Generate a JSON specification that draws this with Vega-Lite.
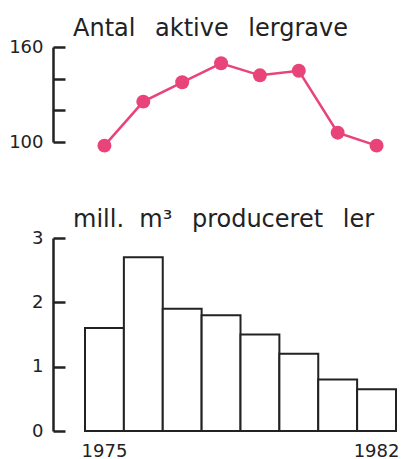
{
  "$schema": "https://vega.github.io/schema/vega-lite/v6.json",
  "background": "white",
  "padding": {"left": 8, "top": 17, "right": 6, "bottom": 0},
  "config": {
    "view": {"stroke": null},
    "font": "DejaVu Sans",
    "title": {"font": "DejaVu Sans", "fontSize": 24, "fontWeight": "normal", "color": "#222", "anchor": "start", "frame": "group", "dx": -12, "baseline": "alphabetic", "offset": -3},
    "axis": {"labelFont": "DejaVu Sans", "labelFontSize": 18, "labelColor": "#222", "grid": false}
  },
  "spacing": 55,
  "vconcat": [
    {
      "width": 311,
      "height": 95,
      "title": "Antal\u2002\u00a0aktive\u2002\u00a0lergrave",
      "data": {"values": [
        {"year": "1975", "n": 97.7},
        {"year": "1976", "n": 125.5},
        {"year": "1977", "n": 137.7},
        {"year": "1978", "n": 149.7},
        {"year": "1979", "n": 142.1},
        {"year": "1980", "n": 145},
        {"year": "1981", "n": 105.9},
        {"year": "1982", "n": 97.7}
      ]},
      "encoding": {
        "x": {"field": "year", "type": "ordinal", "scale": {"type": "point", "padding": 0.5}, "axis": null},
        "y": {"field": "n", "type": "quantitative", "scale": {"domain": [100, 160], "nice": false, "zero": false},
          "axis": {"title": null, "values": [100, 120, 140, 160], "labelExpr": "datum.value == 100 || datum.value == 160 ? datum.label : ''", "offset": 32, "tickSize": -12, "tickWidth": 2.5, "tickColor": "#222", "domainWidth": 2.5, "domainColor": "#222", "labelPadding": 22}}
      },
      "layer": [
        {"mark": {"type": "line", "color": "#E8447A", "strokeWidth": 2.5, "clip": false}},
        {"mark": {"type": "point", "filled": true, "opacity": 1, "color": "#E8447A", "size": 195, "clip": false}}
      ]
    },
    {
      "width": 311,
      "height": 193,
      "title": "mill.\u00a0\u00a0m³\u2002\u00a0produceret\u2002\u00a0ler",
      "data": {"values": [
        {"year": "1975", "v": 1.6},
        {"year": "1976", "v": 2.7},
        {"year": "1977", "v": 1.9},
        {"year": "1978", "v": 1.8},
        {"year": "1979", "v": 1.5},
        {"year": "1980", "v": 1.2},
        {"year": "1981", "v": 0.8},
        {"year": "1982", "v": 0.65}
      ]},
      "mark": {"type": "bar", "fill": "white", "stroke": "#222", "strokeWidth": 2},
      "encoding": {
        "x": {"field": "year", "type": "ordinal", "scale": {"type": "band", "paddingInner": 0, "paddingOuter": 0},
          "axis": {"title": null, "domain": false, "ticks": false, "labelAngle": 0, "labelPadding": 11, "labelExpr": "datum.value == '1975' || datum.value == '1982' ? datum.label : ''"}},
        "y": {"field": "v", "type": "quantitative", "scale": {"domain": [0, 3], "nice": false},
          "axis": {"title": null, "values": [0, 1, 2, 3], "offset": 32, "tickSize": -12, "tickWidth": 2.5, "tickColor": "#222", "domainWidth": 2.5, "domainColor": "#222", "labelPadding": 22}}
      }
    }
  ]
}
